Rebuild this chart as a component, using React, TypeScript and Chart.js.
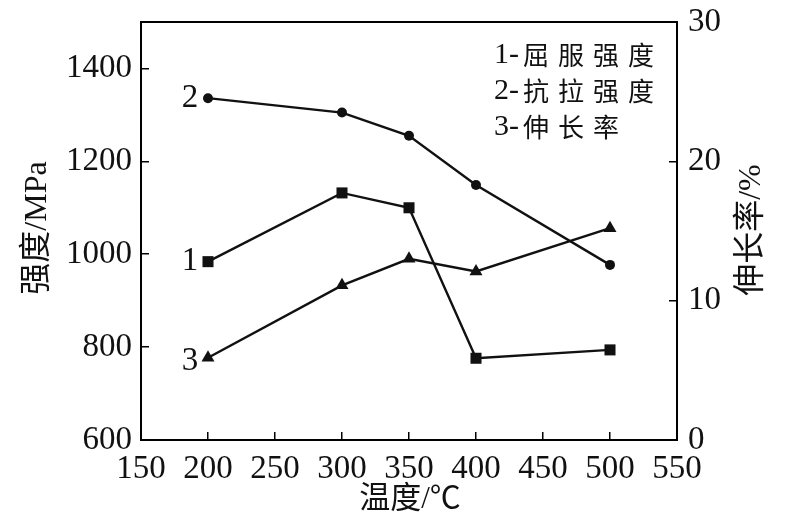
import React, { useEffect, useRef } from 'react';
import { Chart, registerables } from 'chart.js';

Chart.register(...registerables);

const temperatures = [200, 300, 350, 400, 500];
const yieldStrength = [984, 1132, 1100, 776, 794];
const tensileStrength = [1336, 1305, 1255, 1149, 977];
const elongation = [5.9, 11.1, 13.0, 12.1, 15.2];

const xTicks = [150, 200, 250, 300, 350, 400, 450, 500, 550];
const leftTicks = [600, 800, 1000, 1200, 1400];
const rightTicks = [0, 10, 20, 30];

const seriesTags = ['1', '2', '3'];
const legendLines: [string, string][] = [
  ['1-', '屈服强度'],
  ['2-', '抗拉强度'],
  ['3-', '伸长率'],
];
const xTitle = '温度/℃';
const yTitle = '强度/MPa';
const y1Title = '伸长率/%';

const FONT = "'Liberation Serif', 'Noto Sans CJK SC', serif";

const overlayPlugin = {
  id: 'overlay',
  afterDraw(chart: any) {
    const ctx = chart.ctx;
    const a = chart.chartArea;
    const xs = chart.scales.x;
    const ys = chart.scales.y;
    const y1s = chart.scales.y1;
    ctx.save();
    // frame
    ctx.strokeStyle = '#000';
    ctx.lineWidth = 2;
    ctx.strokeRect(a.left, a.top, a.right - a.left, a.bottom - a.top);

    ctx.fillStyle = '#111';
    // series tags
    ctx.font = `33px ${FONT}`;
    ctx.textAlign = 'center';
    ctx.textBaseline = 'middle';
    const x0 = xs.getPixelForValue(temperatures[0]) - 18;
    ctx.fillText(seriesTags[0], x0, ys.getPixelForValue(yieldStrength[0]));
    ctx.fillText(seriesTags[1], x0, ys.getPixelForValue(tensileStrength[0]));
    ctx.fillText(seriesTags[2], x0, y1s.getPixelForValue(elongation[0]) + 4);

    // legend text
    legendLines.forEach((ln, i) => {
      const y = 55 + i * 36;
      ctx.textAlign = 'left';
      ctx.font = `30px ${FONT}`;
      ctx.fillText(ln[0], 494, y);
      ctx.font = `26px 'Noto Sans CJK SC'`;
      Array.from(ln[1]).forEach((ch, j) => {
        ctx.fillText(ch, 523 + j * 35, y);
      });
    });

    // x title
    ctx.font = `31px ${FONT}`;
    ctx.textAlign = 'center';
    ctx.fillText(xTitle, 410, 500);

    // y titles rotated
    ctx.font = `32px ${FONT}`;
    ctx.save();
    ctx.translate(38, 228);
    ctx.rotate(-Math.PI / 2);
    ctx.fillText(yTitle, 0, 0);
    ctx.restore();

    ctx.save();
    ctx.translate(752, 230);
    ctx.rotate(-Math.PI / 2);
    ctx.fillText(y1Title, 0, 0);
    ctx.restore();

    ctx.restore();
  },
};

export default function App() {
  const ref = useRef<HTMLCanvasElement>(null);
  useEffect(() => {
    if (!ref.current) return;
    const tickFont = { family: FONT, size: 33 };
    const gridOpts = {
      drawOnChartArea: false,
      tickLength: -8,
      color: '#000',
      tickColor: '#000',
      lineWidth: 1.5,
    };
    const fmt = (v: any) => String(v);
    const noPad = (s: any) => {
      s.paddingTop = 0;
      s.paddingBottom = 0;
      s.paddingLeft = 0;
      s.paddingRight = 0;
    };
    const mk = (vals: number[]) => temperatures.map((t, i) => ({ x: t, y: vals[i] }));
    const line = { borderColor: '#111', backgroundColor: '#111', borderWidth: 2.4, pointBorderWidth: 0 };
    const chart = new Chart(ref.current, {
      type: 'line',
      data: {
        datasets: [
          { ...line, label: '1', data: mk(yieldStrength), yAxisID: 'y', pointStyle: 'rect', pointRadius: 7.8 },
          { ...line, label: '2', data: mk(tensileStrength), yAxisID: 'y', pointStyle: 'circle', pointRadius: 5 },
          { ...line, label: '3', data: mk(elongation), yAxisID: 'y1', pointStyle: 'triangle', pointRadius: 7.5 },
        ],
      },
      options: {
        animation: false,
        responsive: false,
        layout: { padding: { top: 22, left: 0, right: 0, bottom: 0 } },
        plugins: { legend: { display: false }, tooltip: { enabled: false } },
        scales: {
          x: {
            type: 'linear',
            min: 150,
            max: 550,
            afterBuildTicks: (s: any) => { s.ticks = xTicks.map((v) => ({ value: v })); },
            afterFit: (s: any) => { s.height = 87; noPad(s); },
            grid: gridOpts,
            border: { display: false },
            ticks: { font: tickFont, color: '#111', padding: 18, maxRotation: 0, autoSkip: false, callback: fmt },
          },
          y: {
            type: 'linear',
            position: 'left',
            min: 600,
            max: 1500,
            afterBuildTicks: (s: any) => { s.ticks = leftTicks.map((v) => ({ value: v })); },
            afterFit: (s: any) => { s.width = 141; noPad(s); },
            grid: gridOpts,
            border: { display: false },
            ticks: { font: tickFont, color: '#111', padding: 17, autoSkip: false, callback: fmt },
          },
          y1: {
            type: 'linear',
            position: 'right',
            min: 0,
            max: 30,
            afterBuildTicks: (s: any) => { s.ticks = rightTicks.map((v) => ({ value: v })); },
            afterFit: (s: any) => { s.width = 121; noPad(s); },
            grid: gridOpts,
            border: { display: false },
            ticks: { font: tickFont, color: '#111', padding: 19, autoSkip: false, callback: fmt },
          },
        },
      } as any,
      plugins: [overlayPlugin],
    });
    return () => chart.destroy();
  }, []);
  return (
    <div style={{ position: 'absolute', left: 0, top: 0, width: 798, height: 527, background: '#fff' }}>
      <canvas ref={ref} width={798} height={527} />
    </div>
  );
}
